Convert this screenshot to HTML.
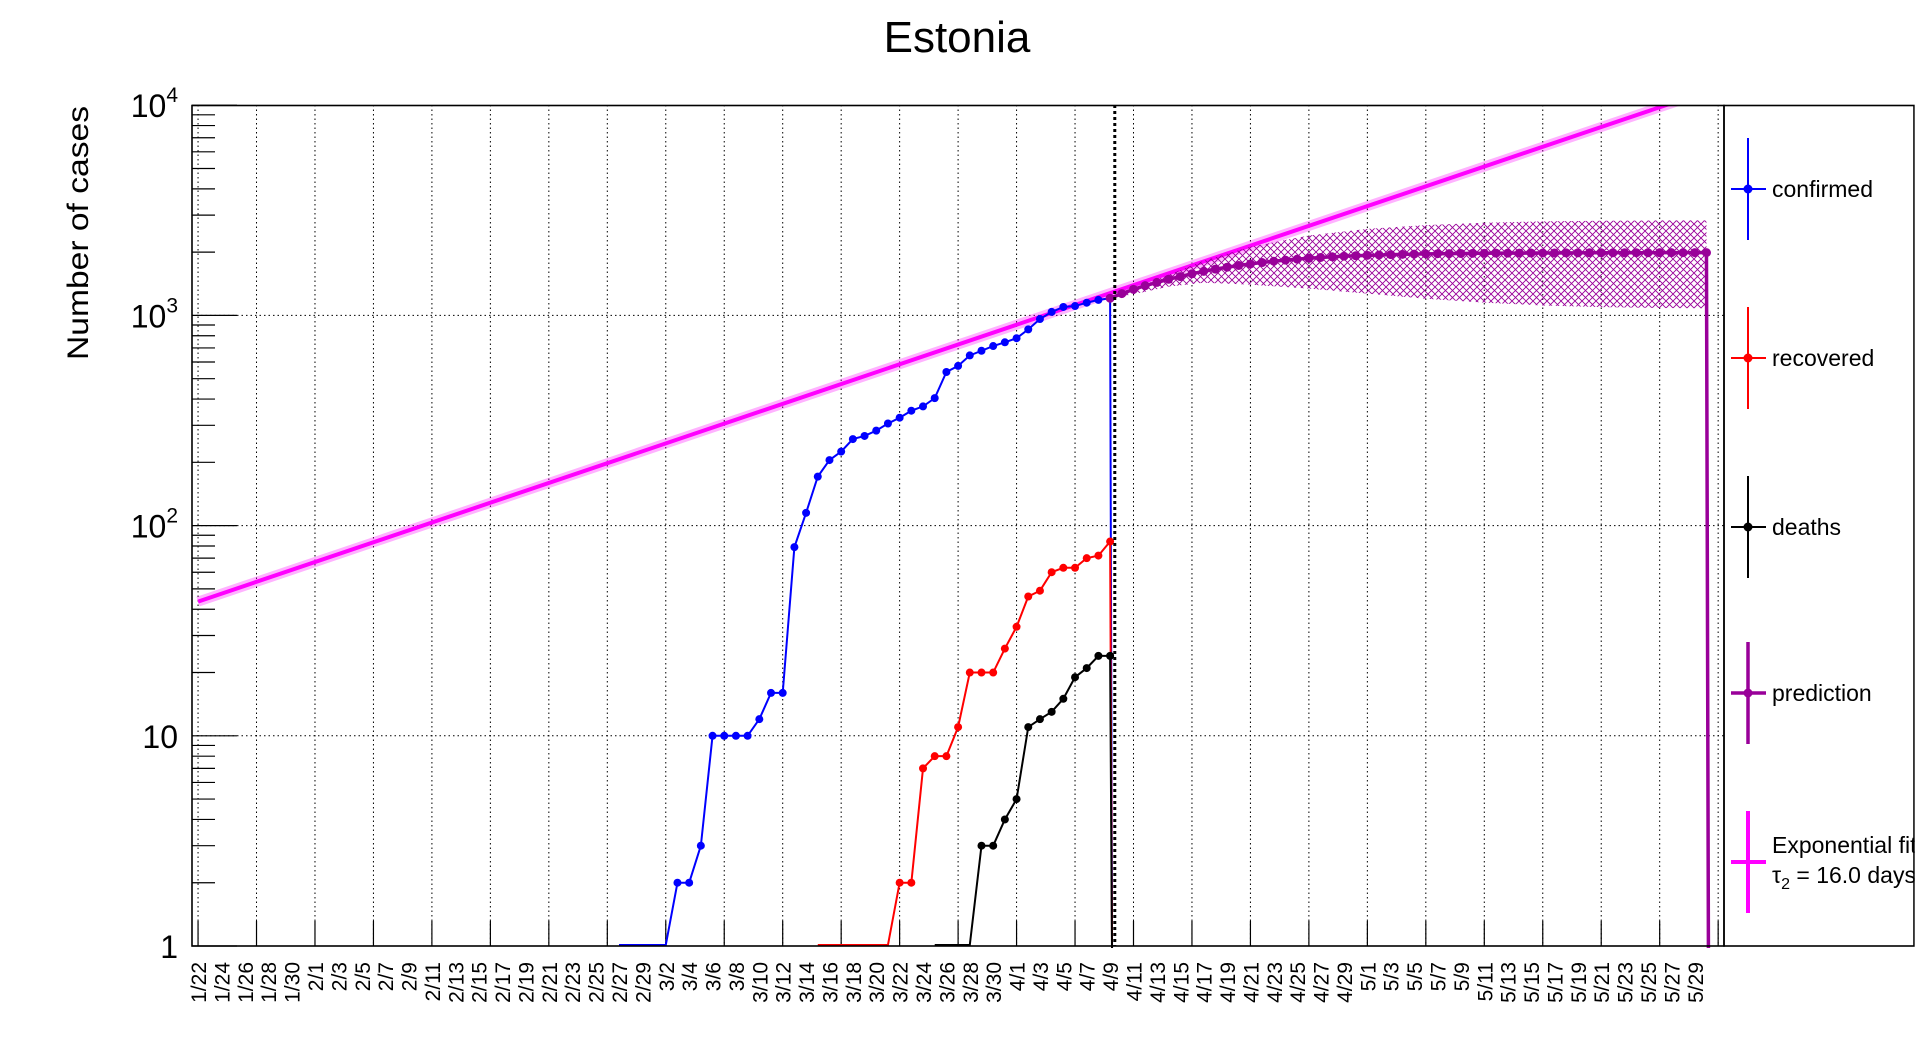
<!DOCTYPE html>
<html><head><meta charset="utf-8"><style>
html,body{margin:0;padding:0;background:#fff;}
svg{display:block;font-family:"Liberation Sans",sans-serif;}
</style></head><body>
<svg id="chart" width="1916" height="1052" viewBox="0 0 1916 1052" xmlns="http://www.w3.org/2000/svg">
<defs>
<clipPath id="plotclip"><rect x="192" y="105" width="1532" height="843"/></clipPath>
<pattern id="hatch" width="7" height="7" patternUnits="userSpaceOnUse">
<path d="M0,0 L7,7 M7,0 L0,7" stroke="#990099" stroke-width="0.9"/>
</pattern>
</defs>
<rect width="1916" height="1052" fill="#fff"/>
<text x="957" y="52" font-size="44" text-anchor="middle">Estonia</text>
<text transform="translate(88,233) rotate(-90)" font-size="30" text-anchor="middle" textLength="254" lengthAdjust="spacingAndGlyphs">Number of cases</text>
<g id="grid"></g>
<g id="axes"></g>
<g id="plot" clip-path="url(#plotclip)"></g>
<rect x="192" y="105.5" width="1532" height="840.5" fill="none" stroke="#000" stroke-width="1.6"/>
<g id="legend"></g>
</svg>
<script>
// ---- data ----
const dateLabels = ["1/22","1/24","1/26","1/28","1/30","2/1","2/3","2/5","2/7","2/9","2/11","2/13","2/15","2/17","2/19","2/21","2/23","2/25","2/27","2/29","3/2","3/4","3/6","3/8","3/10","3/12","3/14","3/16","3/18","3/20","3/22","3/24","3/26","3/28","3/30","4/1","4/3","4/5","4/7","4/9","4/11","4/13","4/15","4/17","4/19","4/21","4/23","4/25","4/27","4/29","5/1","5/3","5/5","5/7","5/9","5/11","5/13","5/15","5/17","5/19","5/21","5/23","5/25","5/27","5/29"];
const yTickExps = [0,1,2,3,4];
const confirmedStart = 36;
const confirmed = [1,1,1,1,1,2,2,3,10,10,10,10,12,16,16,79,115,171,205,225,258,267,283,306,326,352,369,404,538,575,645,679,715,745,779,858,961,1039,1097,1108,1149,1185,1207];
const recoveredStart = 53;
const recovered = [1,1,1,1,1,1,1,2,2,7,8,8,11,20,20,20,26,33,46,49,60,63,63,70,72,84];
const deathsStart = 63;
const deaths = [1,1,1,1,3,3,4,5,11,12,13,15,19,21,24,24];
const predStart = 78;
const prediction = [1207,1270,1330,1385,1435,1485,1530,1578,1620,1660,1695,1728,1758,1785,1810,1832,1852,1870,1886,1900,1912,1922,1931,1939,1946,1952,1957,1961,1965,1968,1971,1973,1975,1977,1978,1979,1980,1981,1982,1983,1984,1985,1985,1986,1986,1987,1987,1988,1988,1988,1989,1989];
const bandDays = [78,80,83,86,90,95,100,105,110,115,120,125,129];
const bandUpper = [1207,1330,1560,1820,2120,2400,2580,2690,2760,2800,2820,2830,2830];
const bandLower = [1207,1260,1370,1430,1400,1340,1270,1200,1150,1115,1095,1085,1082];
const fitStartValue = 43.5;
const fitDoubling = 16.0;
const fitDays = [0,130];

// ---- scales ----
const X0 = 192.2, BW = (1724 - 192.2) / 131;
const YB = 946, DEC = 210.2;
function xs(d){ return X0 + (d + 0.5) * BW; }
function ys(v){ return YB - Math.log10(v) * DEC; }
const NS = "http://www.w3.org/2000/svg";
function mk(tag, parent, attrs){ const e = document.createElementNS(NS, tag); for (const k in attrs) e.setAttribute(k, attrs[k]); parent.appendChild(e); return e; }

const grid = document.getElementById('grid'), axes = document.getElementById('axes'), plot = document.getElementById('plot'), legend = document.getElementById('legend');

for (let d = 0; d <= 130; d += 5) {
  const x = xs(d);
  const g = mk('line', grid, {x1:x, x2:x, y1:105, y2:946, stroke:'#000', 'stroke-width':1, 'stroke-dasharray':'1.5,3'});
  
  
  const t = mk('line', axes, {x1:x, x2:x, y1:921, y2:946, stroke:'#000', 'stroke-width':1.2});
  
  
}
dateLabels.forEach((lab, i) => {
  const x = xs(i * 2) + 8;
  const t = mk('text', axes, {transform:`translate(${x},962) rotate(-90)`, 'font-size':21, 'text-anchor':'end'});
  t.textContent = lab;
  
  
});
yTickExps.forEach(e => {
  const y = ys(Math.pow(10, e));
  if (e > 0 && e < 4) {
    const g = mk('line', grid, {x1:192, x2:1724, y1:y, y2:y, stroke:'#000', 'stroke-width':1, 'stroke-dasharray':'1.5,3'});
    
    
  }
  const tk = mk('line', axes, {x1:192, x2:237, y1:y, y2:y, stroke:'#000', 'stroke-width':1.2});
  
  
  if (e < 4) for (let m = 2; m <= 9; m++) {
    const ym = ys(m * Math.pow(10, e));
    const mt = mk('line', axes, {x1:192, x2:215, y1:ym, y2:ym, stroke:'#000', 'stroke-width':1.2});
    
    
  }
  const lab = mk('text', axes, {x:178, y:y + 12, 'font-size':32, 'text-anchor':'end'});
  
  
  if (e === 0) lab.textContent = '1';
  else if (e === 1) lab.textContent = '10';
  else { lab.textContent = '10'; const s = mk('tspan', lab, {dy:-15, 'font-size':21}); s.textContent = String(e); }
});

(function(){
  const a = Math.log10(fitStartValue), k = Math.log10(2) / fitDoubling;
  const p1 = [xs(fitDays[0]), ys(Math.pow(10, a + k*fitDays[0]))], p2 = [xs(fitDays[1]), ys(Math.pow(10, a + k*fitDays[1]))];
  const b = mk('line', plot, {x1:p1[0], y1:p1[1], x2:p2[0], y2:p2[1], stroke:'#ff00ff', 'stroke-width':10, 'stroke-opacity':0.3});
  
  
  const l = mk('line', plot, {x1:p1[0], y1:p1[1], x2:p2[0], y2:p2[1], stroke:'#ff00ff', 'stroke-width':4});
  
  
})();

(function(){
  let d = '';
  bandDays.forEach((day, i) => { d += (i ? 'L' : 'M') + xs(day) + ',' + ys(bandUpper[i]); });
  for (let i = bandDays.length - 1; i >= 0; i--) d += 'L' + xs(bandDays[i]) + ',' + ys(bandLower[i]);
  const p = mk('path', plot, {d: d + 'Z', fill:'url(#hatch)', stroke:'none'});
  
  
})();

function series(vals, start, color, name, width, r){
  const g = mk('g', plot, {});
  
  
  let d = '';
  vals.forEach((v, i) => { d += (i ? 'L' : 'M') + xs(start + i) + ',' + (v <= 1 ? ys(v) - 1 : ys(v)); });
  const last = xs(start + vals.length - 1);
  d += 'L' + (last + 2) + ',' + (YB + 20);
  const p = mk('path', g, {d, fill:'none', stroke:color, 'stroke-width':width});
  
  
  vals.forEach((v, i) => {
    if (v <= 1) return;
    const c = mk('circle', g, {cx:xs(start + i), cy:ys(v), r:r, fill:color});
    
    
  });
}
series(confirmed, confirmedStart, '#0000ff', 'confirmed', 2, 4);
series(recovered, recoveredStart, '#ff0000', 'recovered', 2, 4);
series(deaths, deathsStart, '#000000', 'deaths', 2, 4);
series(prediction, predStart, '#990099', 'prediction', 3.5, 4.5);

(function(){
  const x = xs(78.4);
  const l = mk('line', plot, {x1:x, x2:x, y1:105, y2:946, stroke:'#000', 'stroke-width':3, 'stroke-dasharray':'3,3'});
  
  
})();

(function(){
  const box = mk('rect', legend, {x:1724, y:105.5, width:190, height:840.5, fill:'none', stroke:'#000', 'stroke-width':1.6});
  
  
  const entries = [['confirmed','#0000ff',189,2,true],['recovered','#ff0000',358,2,true],['deaths','#000000',527,2,true],['prediction','#990099',693,3.5,true],['fit','#ff00ff',862,4,false]];
  entries.forEach(en => {
    const g = mk('g', legend, {});
    
    
    const y = en[2];
    mk('line', g, {x1:1748, x2:1748, y1:y-51, y2:y+51, stroke:en[1], 'stroke-width':en[3]});
    mk('line', g, {x1:1731, x2:1766, y1:y, y2:y, stroke:en[1], 'stroke-width':en[3]});
    if (en[4]) mk('circle', g, {cx:1748, cy:y, r:4.5, fill:en[1]});
    if (en[0] === 'fit') {
      const t1 = mk('text', g, {x:1772, y:853, 'font-size':23}); t1.textContent = 'Exponential fit';
      const t2 = mk('text', g, {x:1772, y:883, 'font-size':23}); t2.textContent = 'τ';
      const s = mk('tspan', t2, {dy:6, 'font-size':16}); s.textContent = '2';
      const s2 = mk('tspan', t2, {dy:-6}); s2.textContent = ' = 16.0 days';
    } else {
      const t = mk('text', g, {x:1772, y:y + 8, 'font-size':23}); t.textContent = en[0];
    }
  });
  const cover = mk('rect', legend, {x:1914.8, y:0, width:2, height:1052, fill:'#fff'});
  
  
})();
</script>
</body></html>
